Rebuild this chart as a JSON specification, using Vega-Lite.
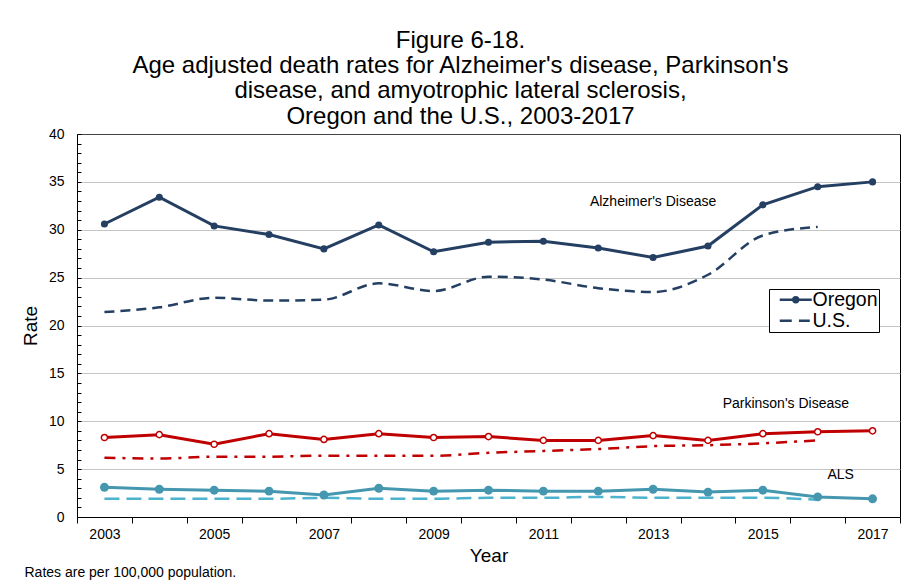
{
  "$schema": "https://vega.github.io/schema/vega-lite/v6.json",
  "width": 823,
  "height": 383,
  "autosize": {"type": "none"},
  "padding": {"left": 77, "top": 134, "right": 15, "bottom": 65},
  "background": "white",
  "config": {
    "font": "Liberation Sans",
    "view": {"stroke": "black", "strokeWidth": 1},
    "axis": {"labelColor": "black", "titleColor": "black", "titleFontWeight": "normal", "domainColor": "black", "tickColor": "black"}
  },
  "title": {
    "text": ["Figure 6-18.", "Age adjusted death rates for Alzheimer's disease, Parkinson's", "disease, and amyotrophic lateral sclerosis,"],
    "subtitle": "Oregon and the U.S., 2003-2017",
    "fontSize": 24,
    "fontWeight": "normal",
    "font": "Liberation Sans",
    "color": "black",
    "lineHeight": 25,
    "subtitleFontSize": 24,
    "subtitleFont": "Liberation Sans",
    "subtitleColor": "black",
    "subtitleFontWeight": "normal",
    "subtitleLineHeight": 25,
    "subtitlePadding": 2,
    "anchor": "middle",
    "dx": -28,
    "offset": -2
  },
  "data": {
    "values": [
      {"year": 2003, "disease": "Alzheimer", "geo": "Oregon", "series": "AlzOR", "value": 30.6},
      {"year": 2004, "disease": "Alzheimer", "geo": "Oregon", "series": "AlzOR", "value": 33.4},
      {"year": 2005, "disease": "Alzheimer", "geo": "Oregon", "series": "AlzOR", "value": 30.4},
      {"year": 2006, "disease": "Alzheimer", "geo": "Oregon", "series": "AlzOR", "value": 29.5},
      {"year": 2007, "disease": "Alzheimer", "geo": "Oregon", "series": "AlzOR", "value": 28.0},
      {"year": 2008, "disease": "Alzheimer", "geo": "Oregon", "series": "AlzOR", "value": 30.5},
      {"year": 2009, "disease": "Alzheimer", "geo": "Oregon", "series": "AlzOR", "value": 27.7},
      {"year": 2010, "disease": "Alzheimer", "geo": "Oregon", "series": "AlzOR", "value": 28.7},
      {"year": 2011, "disease": "Alzheimer", "geo": "Oregon", "series": "AlzOR", "value": 28.8},
      {"year": 2012, "disease": "Alzheimer", "geo": "Oregon", "series": "AlzOR", "value": 28.1},
      {"year": 2013, "disease": "Alzheimer", "geo": "Oregon", "series": "AlzOR", "value": 27.1},
      {"year": 2014, "disease": "Alzheimer", "geo": "Oregon", "series": "AlzOR", "value": 28.3},
      {"year": 2015, "disease": "Alzheimer", "geo": "Oregon", "series": "AlzOR", "value": 32.6},
      {"year": 2016, "disease": "Alzheimer", "geo": "Oregon", "series": "AlzOR", "value": 34.5},
      {"year": 2017, "disease": "Alzheimer", "geo": "Oregon", "series": "AlzOR", "value": 35.0},
      {"year": 2003, "disease": "Alzheimer", "geo": "U.S.", "series": "AlzUS", "value": 21.4},
      {"year": 2004, "disease": "Alzheimer", "geo": "U.S.", "series": "AlzUS", "value": 21.9},
      {"year": 2005, "disease": "Alzheimer", "geo": "U.S.", "series": "AlzUS", "value": 22.9},
      {"year": 2006, "disease": "Alzheimer", "geo": "U.S.", "series": "AlzUS", "value": 22.6},
      {"year": 2007, "disease": "Alzheimer", "geo": "U.S.", "series": "AlzUS", "value": 22.7},
      {"year": 2008, "disease": "Alzheimer", "geo": "U.S.", "series": "AlzUS", "value": 24.4},
      {"year": 2009, "disease": "Alzheimer", "geo": "U.S.", "series": "AlzUS", "value": 23.6},
      {"year": 2010, "disease": "Alzheimer", "geo": "U.S.", "series": "AlzUS", "value": 25.1},
      {"year": 2011, "disease": "Alzheimer", "geo": "U.S.", "series": "AlzUS", "value": 24.8},
      {"year": 2012, "disease": "Alzheimer", "geo": "U.S.", "series": "AlzUS", "value": 23.9},
      {"year": 2013, "disease": "Alzheimer", "geo": "U.S.", "series": "AlzUS", "value": 23.5},
      {"year": 2014, "disease": "Alzheimer", "geo": "U.S.", "series": "AlzUS", "value": 25.3},
      {"year": 2015, "disease": "Alzheimer", "geo": "U.S.", "series": "AlzUS", "value": 29.4},
      {"year": 2016, "disease": "Alzheimer", "geo": "U.S.", "series": "AlzUS", "value": 30.3},
      {"year": 2003, "disease": "Parkinson", "geo": "Oregon", "series": "ParOR", "value": 8.3},
      {"year": 2004, "disease": "Parkinson", "geo": "Oregon", "series": "ParOR", "value": 8.6},
      {"year": 2005, "disease": "Parkinson", "geo": "Oregon", "series": "ParOR", "value": 7.6},
      {"year": 2006, "disease": "Parkinson", "geo": "Oregon", "series": "ParOR", "value": 8.7},
      {"year": 2007, "disease": "Parkinson", "geo": "Oregon", "series": "ParOR", "value": 8.1},
      {"year": 2008, "disease": "Parkinson", "geo": "Oregon", "series": "ParOR", "value": 8.7},
      {"year": 2009, "disease": "Parkinson", "geo": "Oregon", "series": "ParOR", "value": 8.3},
      {"year": 2010, "disease": "Parkinson", "geo": "Oregon", "series": "ParOR", "value": 8.4},
      {"year": 2011, "disease": "Parkinson", "geo": "Oregon", "series": "ParOR", "value": 8.0},
      {"year": 2012, "disease": "Parkinson", "geo": "Oregon", "series": "ParOR", "value": 8.0},
      {"year": 2013, "disease": "Parkinson", "geo": "Oregon", "series": "ParOR", "value": 8.5},
      {"year": 2014, "disease": "Parkinson", "geo": "Oregon", "series": "ParOR", "value": 8.0},
      {"year": 2015, "disease": "Parkinson", "geo": "Oregon", "series": "ParOR", "value": 8.7},
      {"year": 2016, "disease": "Parkinson", "geo": "Oregon", "series": "ParOR", "value": 8.9},
      {"year": 2017, "disease": "Parkinson", "geo": "Oregon", "series": "ParOR", "value": 9.0},
      {"year": 2003, "disease": "Parkinson", "geo": "U.S.", "series": "ParUS", "value": 6.2},
      {"year": 2004, "disease": "Parkinson", "geo": "U.S.", "series": "ParUS", "value": 6.1},
      {"year": 2005, "disease": "Parkinson", "geo": "U.S.", "series": "ParUS", "value": 6.3},
      {"year": 2006, "disease": "Parkinson", "geo": "U.S.", "series": "ParUS", "value": 6.3},
      {"year": 2007, "disease": "Parkinson", "geo": "U.S.", "series": "ParUS", "value": 6.4},
      {"year": 2008, "disease": "Parkinson", "geo": "U.S.", "series": "ParUS", "value": 6.4},
      {"year": 2009, "disease": "Parkinson", "geo": "U.S.", "series": "ParUS", "value": 6.4},
      {"year": 2010, "disease": "Parkinson", "geo": "U.S.", "series": "ParUS", "value": 6.7},
      {"year": 2011, "disease": "Parkinson", "geo": "U.S.", "series": "ParUS", "value": 6.9},
      {"year": 2012, "disease": "Parkinson", "geo": "U.S.", "series": "ParUS", "value": 7.1},
      {"year": 2013, "disease": "Parkinson", "geo": "U.S.", "series": "ParUS", "value": 7.4},
      {"year": 2014, "disease": "Parkinson", "geo": "U.S.", "series": "ParUS", "value": 7.5},
      {"year": 2015, "disease": "Parkinson", "geo": "U.S.", "series": "ParUS", "value": 7.7},
      {"year": 2016, "disease": "Parkinson", "geo": "U.S.", "series": "ParUS", "value": 8.0},
      {"year": 2003, "disease": "ALS", "geo": "Oregon", "series": "ALSOR", "value": 3.1},
      {"year": 2004, "disease": "ALS", "geo": "Oregon", "series": "ALSOR", "value": 2.9},
      {"year": 2005, "disease": "ALS", "geo": "Oregon", "series": "ALSOR", "value": 2.8},
      {"year": 2006, "disease": "ALS", "geo": "Oregon", "series": "ALSOR", "value": 2.7},
      {"year": 2007, "disease": "ALS", "geo": "Oregon", "series": "ALSOR", "value": 2.3},
      {"year": 2008, "disease": "ALS", "geo": "Oregon", "series": "ALSOR", "value": 3.0},
      {"year": 2009, "disease": "ALS", "geo": "Oregon", "series": "ALSOR", "value": 2.7},
      {"year": 2010, "disease": "ALS", "geo": "Oregon", "series": "ALSOR", "value": 2.8},
      {"year": 2011, "disease": "ALS", "geo": "Oregon", "series": "ALSOR", "value": 2.7},
      {"year": 2012, "disease": "ALS", "geo": "Oregon", "series": "ALSOR", "value": 2.7},
      {"year": 2013, "disease": "ALS", "geo": "Oregon", "series": "ALSOR", "value": 2.9},
      {"year": 2014, "disease": "ALS", "geo": "Oregon", "series": "ALSOR", "value": 2.6},
      {"year": 2015, "disease": "ALS", "geo": "Oregon", "series": "ALSOR", "value": 2.8},
      {"year": 2016, "disease": "ALS", "geo": "Oregon", "series": "ALSOR", "value": 2.1},
      {"year": 2017, "disease": "ALS", "geo": "Oregon", "series": "ALSOR", "value": 1.9},
      {"year": 2003, "disease": "ALS", "geo": "U.S.", "series": "ALSUS", "value": 1.9},
      {"year": 2004, "disease": "ALS", "geo": "U.S.", "series": "ALSUS", "value": 1.9},
      {"year": 2005, "disease": "ALS", "geo": "U.S.", "series": "ALSUS", "value": 1.9},
      {"year": 2006, "disease": "ALS", "geo": "U.S.", "series": "ALSUS", "value": 1.9},
      {"year": 2007, "disease": "ALS", "geo": "U.S.", "series": "ALSUS", "value": 2.0},
      {"year": 2008, "disease": "ALS", "geo": "U.S.", "series": "ALSUS", "value": 1.9},
      {"year": 2009, "disease": "ALS", "geo": "U.S.", "series": "ALSUS", "value": 1.9},
      {"year": 2010, "disease": "ALS", "geo": "U.S.", "series": "ALSUS", "value": 2.0},
      {"year": 2011, "disease": "ALS", "geo": "U.S.", "series": "ALSUS", "value": 2.0},
      {"year": 2012, "disease": "ALS", "geo": "U.S.", "series": "ALSUS", "value": 2.1},
      {"year": 2013, "disease": "ALS", "geo": "U.S.", "series": "ALSUS", "value": 2.0},
      {"year": 2014, "disease": "ALS", "geo": "U.S.", "series": "ALSUS", "value": 2.0},
      {"year": 2015, "disease": "ALS", "geo": "U.S.", "series": "ALSUS", "value": 2.0},
      {"year": 2016, "disease": "ALS", "geo": "U.S.", "series": "ALSUS", "value": 1.8}
    ]
  },
  "resolve": {"axis": {"x": "independent", "y": "independent"}},
  "layer": [
    {
      "transform": [{"filter": "datum.geo == 'U.S.'"}],
      "mark": {"type": "line", "interpolate": "monotone", "strokeWidth": 2.5},
      "encoding": {
        "x": {
          "field": "year", "type": "ordinal",
          "scale": {"type": "band", "paddingInner": 0, "paddingOuter": 0},
          "axis": {
            "orient": "bottom",
            "title": "Year", "titleFontSize": 19, "titlePadding": 5, "titleFontWeight": "normal",
            "labelAngle": 0, "labelFontSize": 14, "labelPadding": 4,
            "labelExpr": "datum.value % 2 == 1 ? datum.label : ''",
            "tickBand": "extent", "tickSize": 6, "grid": false
          }
        },
        "y": {
          "field": "value", "type": "quantitative",
          "scale": {"domain": [0, 40], "nice": false},
          "axis": {
            "orient": "left",
            "title": "Rate", "titleFontSize": 19, "titlePadding": 8, "titleFontWeight": "normal",
            "values": [0, 5, 10, 15, 20, 25, 30, 35, 40],
            "labelFontSize": 14, "labelPadding": 13,
            "ticks": false,
            "grid": true, "gridDash": [1, 1], "gridColor": "#8a8a8a"
          }
        },
        "color": {
          "field": "series", "type": "nominal", "legend": null,
          "scale": {"domain": ["AlzOR", "AlzUS", "ParOR", "ParUS", "ALSOR", "ALSUS"], "range": ["#243f62", "#243f62", "#c00000", "#c00000", "#4597b0", "#4db2cd"]}
        },
        "strokeDash": {
          "field": "series", "type": "nominal", "legend": null,
          "scale": {"domain": ["AlzOR", "AlzUS", "ParOR", "ParUS", "ALSOR", "ALSUS"], "range": [[1, 0], [10, 6], [1, 0], [11, 7, 3, 7], [1, 0], [15, 7]]}
        }
      }
    },
    {
      "transform": [{"filter": "datum.geo == 'Oregon'"}],
      "mark": {"type": "line", "strokeWidth": 3},
      "encoding": {
        "x": {"field": "year", "type": "ordinal", "axis": {
          "orient": "bottom",
          "title": "Rates are per 100,000 population.", "titleFontSize": 14, "titleFontWeight": "normal",
          "titleAnchor": "start", "titleAlign": "left", "titleX": -53, "titleY": 55, "titleBaseline": "middle",
          "labels": false, "ticks": false, "domain": false, "grid": false}},
        "y": {"field": "value", "type": "quantitative", "axis": {
          "orient": "right", "offset": -823, "title": null,
          "values": [0,1,2,3,4,5,6,7,8,9,10,11,12,13,14,15,16,17,18,19,20,21,22,23,24,25,26,27,28,29,30,31,32,33,34,35,36,37,38,39,40],
          "labels": false, "domain": false, "grid": false, "ticks": true, "tickSize": 4}},
        "color": {"field": "series", "type": "nominal", "legend": null}
      }
    },
    {
      "transform": [{"filter": "datum.series == 'AlzOR'"}],
      "mark": {"type": "point", "filled": true, "opacity": 1, "color": "#243f62", "size": 50},
      "encoding": {
        "x": {"field": "year", "type": "ordinal", "axis": null},
        "y": {"field": "value", "type": "quantitative", "axis": null}
      }
    },
    {
      "transform": [{"filter": "datum.series == 'ParOR'"}],
      "mark": {"type": "point", "filled": false, "opacity": 1, "fill": "white", "stroke": "#c00000", "strokeWidth": 1.5, "size": 38},
      "encoding": {
        "x": {"field": "year", "type": "ordinal", "axis": null},
        "y": {"field": "value", "type": "quantitative", "axis": null}
      }
    },
    {
      "transform": [{"filter": "datum.series == 'ALSOR'"}],
      "mark": {"type": "point", "filled": true, "opacity": 1, "color": "#4597b0", "size": 80},
      "encoding": {
        "x": {"field": "year", "type": "ordinal", "axis": null},
        "y": {"field": "value", "type": "quantitative", "axis": null}
      }
    },
    {
      "mark": {"type": "point", "opacity": 0, "filled": false, "color": "#243f62", "strokeWidth": 2.5},
      "encoding": {
        "x": {"field": "year", "type": "ordinal", "axis": null},
        "y": {"field": "value", "type": "quantitative", "axis": null},
        "shape": {
          "field": "geo", "type": "nominal",
          "scale": {"domain": ["Oregon", "U.S."], "range": ["M-2,0H2M0.3,0A0.3,0.3,0,1,1,-0.3,0A0.3,0.3,0,1,1,0.3,0ZM0.12,0A0.12,0.12,0,1,1,-0.12,0A0.12,0.12,0,1,1,0.12,0Z", "M-2,0H-0.5M0.4,0H1.75"]},
          "legend": {
            "title": null, "orient": "none", "legendX": 692, "legendY": 155,
            "strokeColor": "black", "fillColor": "white", "padding": 1,
            "labelFontSize": 19.5, "labelColor": "black", "labelOffset": 7,
            "labelExpr": "datum.label + '\u00a0\u00a0'",
            "symbolSize": 256, "symbolOffset": 16, "symbolOpacity": 1,
            "symbolStrokeColor": "#243f62", "symbolStrokeWidth": 2.5,
            "rowPadding": 0
          }
        }
      }
    },
    {
      "data": {"values": [
        {"label": "Alzheimer's Disease", "year": 2013, "value": 32.9}
      ]},
      "mark": {"type": "text", "fontSize": 14, "baseline": "middle", "align": "center", "color": "black"},
      "encoding": {
        "x": {"field": "year", "type": "ordinal", "axis": null},
        "y": {"field": "value", "type": "quantitative", "axis": null},
        "text": {"field": "label"}
      }
    },
    {
      "data": {"values": [
        {"label": "Parkinson's Disease", "year": 2015, "value": 11.8},
        {"label": "ALS", "year": 2016, "value": 4.4}
      ]},
      "mark": {"type": "text", "fontSize": 14, "baseline": "middle", "align": "center", "color": "black", "dx": 23},
      "encoding": {
        "x": {"field": "year", "type": "ordinal", "axis": null},
        "y": {"field": "value", "type": "quantitative", "axis": null},
        "text": {"field": "label"}
      }
    }
  ]
}
